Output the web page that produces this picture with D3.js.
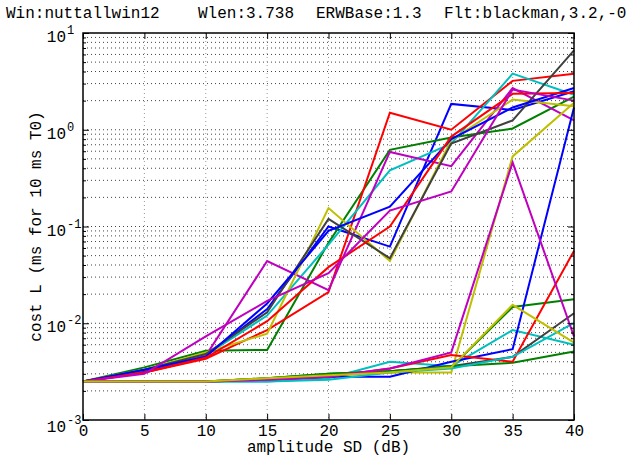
<!DOCTYPE html>
<html>
<head>
<meta charset="utf-8">
<script src="https://cdn.jsdelivr.net/npm/d3@7"></script>
<style>
  body { margin: 0; background: #fff; }
  text { font-family: "Liberation Mono", "Courier New", monospace; fill: #000; }
</style>
</head>
<body>
<svg id="chart" width="627" height="457"></svg>
<script>
// amplitude SD (dB)
const amplitudes = [0, 5, 10, 15, 20, 25, 30, 35, 40]

// cost L values, one array per curve (plot order follows colour cycle)
const blueA    = [0.0025, 0.0032, 0.0046, 0.014, 0.10, 0.062, 1.85, 1.6, 2.5]
const greenA   = [0.0025, 0.0035, 0.0052, 0.0053, 0.068, 0.62, 0.83, 1.03, 2.2]
const redA     = [0.0025, 0.0031, 0.0043, 0.0085, 0.021, 1.5, 1.0, 3.2, 3.8]
const cyanA    = [0.0025, 0.0033, 0.0047, 0.012, 0.065, 0.38, 0.72, 3.8, 2.3]
const magentaA = [0.0025, 0.0031, 0.0046, 0.044, 0.022, 0.59, 0.42, 2.7, 1.25]
const yellowA  = [0.0025, 0.0033, 0.0050, 0.0078, 0.155, 0.044, 0.78, 2.05, 1.75]
const grayA    = [0.0025, 0.0033, 0.0048, 0.013, 0.12, 0.047, 0.72, 1.25, 6.6]
const blueB    = [0.0025, 0.0033, 0.0045, 0.016, 0.09, 0.16, 0.8, 1.7, 2.7]
const greenB   = [0.0025, 0.0025, 0.0025, 0.0027, 0.0030, 0.0032, 0.0035, 0.0147, 0.0177]
const redB     = [0.0025, 0.0031, 0.0044, 0.0105, 0.038, 0.10, 0.85, 2.35, 2.4]
const cyanB    = [0.0025, 0.0025, 0.0025, 0.0025, 0.0027, 0.0040, 0.0036, 0.0085, 0.0060]
const magentaB = [0.0025, 0.0030, 0.0073, 0.017, 0.033, 0.146, 0.23, 2.6, 2.0]
const yellowB  = [0.0025, 0.0025, 0.0025, 0.0027, 0.0029, 0.0031, 0.0031, 0.53, 1.9]
const grayB    = [0.0025, 0.0025, 0.0025, 0.0026, 0.0029, 0.0032, 0.0036, 0.0045, 0.0127]
const blueC    = [0.0025, 0.0025, 0.0025, 0.0026, 0.0028, 0.0028, 0.0040, 0.0054, 1.7]
const greenC   = [0.0025, 0.0025, 0.0025, 0.0027, 0.0030, 0.0032, 0.0036, 0.0039, 0.0051]
const redC     = [0.0025, 0.0025, 0.0025, 0.0026, 0.0028, 0.0034, 0.0047, 0.0040, 0.056]
const cyanC    = [0.0025, 0.0025, 0.0025, 0.0025, 0.0026, 0.0031, 0.0034, 0.0045, 0.0101]
const magentaC = [0.0025, 0.0025, 0.0025, 0.0026, 0.0028, 0.0034, 0.0050, 0.46, 0.0073]
const yellowC  = [0.0025, 0.0025, 0.0025, 0.0027, 0.0029, 0.0031, 0.0035, 0.0155, 0.0063]

const curves = [blueA, greenA, redA, cyanA, magentaA, yellowA, grayA,
                blueB, greenB, redB, cyanB, magentaB, yellowB, grayB,
                blueC, greenC, redC, cyanC, magentaC, yellowC]

const colorCycle = ["#0000ff", "#008000", "#ff0000", "#00bfbf", "#bf00bf", "#bfbf00", "#404040"]

const xTicks = [0, 5, 10, 15, 20, 25, 30, 35, 40]
const yMajor = [1e-3, 1e-2, 1e-1, 1e0, 1e1]
const yExponents = ["-3", "-2", "-1", "0", "1"]

const titleParts = ["Win:nuttallwin12", "Wlen:3.738", "ERWBase:1.3", "Flt:blackman,3.2,-0.5"]

const svg = d3.select("#chart")
const margin = {left: 83, right: 574, top: 33, bottom: 420}

const x = d3.scaleLinear().domain([0, 40]).range([margin.left, margin.right])
const y = d3.scaleLog().domain([1e-3, 1e1]).range([margin.bottom, margin.top])

// minor y values 2..9 per decade
let yMinor = []
for (let e = -3; e < 1; e++) {
  for (let k = 2; k <= 9; k++) yMinor.push(k * Math.pow(10, e))
}

// grid
const grid = svg.append("g").attr("class", "grid")
grid.selectAll("line.hy").data(yMinor.concat(yMajor.slice(1, 4)))
  .enter().append("line")
  .attr("x1", margin.left).attr("x2", margin.right)
  .attr("y1", d => y(d)).attr("y2", d => y(d))
  .attr("stroke", "#444").attr("stroke-width", 1)
  .attr("stroke-dasharray", "1,3")
grid.selectAll("line.vx").data(xTicks.slice(1, -1))
  .enter().append("line")
  .attr("x1", d => x(d)).attr("x2", d => x(d))
  .attr("y1", margin.top).attr("y2", margin.bottom)
  .attr("stroke", "#999").attr("stroke-width", 1)
  .attr("stroke-dasharray", "1,3")

// curves
const line = d3.line()
  .x((d, i) => x(amplitudes[i]))
  .y(d => y(d))

svg.append("g").attr("class", "curves")
  .selectAll("path").data(curves)
  .enter().append("path")
  .attr("d", d => line(d))
  .attr("fill", "none")
  .attr("stroke", (d, i) => colorCycle[i % colorCycle.length])
  .attr("stroke-width", 2)
  .attr("stroke-linejoin", "miter")

// axes, ticks inward on all four sides
const xBottom = svg.append("g")
  .attr("transform", `translate(0,${margin.bottom})`)
  .call(d3.axisBottom(x).tickValues(xTicks).tickSizeInner(-6).tickSizeOuter(0).tickPadding(5))
const xTop = svg.append("g")
  .attr("transform", `translate(0,${margin.top})`)
  .call(d3.axisTop(x).tickValues(xTicks).tickSizeInner(-6).tickSizeOuter(0).tickFormat(""))
const yLeft = svg.append("g")
  .attr("transform", `translate(${margin.left},0)`)
  .call(d3.axisLeft(y).tickValues(yMajor).tickSizeInner(-6).tickSizeOuter(0).tickFormat(""))
const yLeftMinor = svg.append("g")
  .attr("transform", `translate(${margin.left},0)`)
  .call(d3.axisLeft(y).tickValues(yMinor).tickSizeInner(-3).tickSizeOuter(0).tickFormat(""))
const yRight = svg.append("g")
  .attr("transform", `translate(${margin.right},0)`)
  .call(d3.axisRight(y).tickValues(yMajor).tickSizeInner(-6).tickSizeOuter(0).tickFormat(""))
const yRightMinor = svg.append("g")
  .attr("transform", `translate(${margin.right},0)`)
  .call(d3.axisRight(y).tickValues(yMinor).tickSizeInner(-3).tickSizeOuter(0).tickFormat(""))

;[xBottom, xTop, yLeft, yLeftMinor, yRight, yRightMinor].forEach(g => {
  g.select(".domain").remove()
  g.selectAll(".tick line").attr("stroke", "#000")
})
xBottom.selectAll(".tick text")
  .attr("font-size", 16)
  .attr("font-family", "Liberation Mono, monospace")

// y tick labels as 10 with superscript exponent
const yLabels = svg.append("g").attr("class", "ylabels")
yMajor.forEach((v, i) => {
  yLabels.append("text")
    .attr("x", 66)
    .attr("y", y(v) + (i === 0 ? 12 : 9))
    .attr("text-anchor", "end")
    .attr("font-size", 16)
    .text("10")
  yLabels.append("text")
    .attr("x", 67)
    .attr("y", y(v) + (i === 0 ? 4 : 1))
    .attr("font-size", 12)
    .text(yExponents[i])
})

// frame
svg.append("rect")
  .attr("x", margin.left).attr("y", margin.top)
  .attr("width", margin.right - margin.left)
  .attr("height", margin.bottom - margin.top)
  .attr("fill", "none").attr("stroke", "#000").attr("stroke-width", 1.5)

// title (runs off the right edge as in the original)
const titleX = [6, 198, 316, 444]
const title = svg.append("text").attr("y", 18).attr("font-size", 16)
titleParts.forEach((p, i) => {
  title.append("tspan").attr("x", titleX[i]).text(p)
})

// axis labels
svg.append("text")
  .attr("x", (margin.left + margin.right) / 2)
  .attr("y", 452)
  .attr("text-anchor", "middle")
  .attr("font-size", 16)
  .text("amplitude SD (dB)")

svg.append("text")
  .attr("transform", `translate(41,${(margin.top + margin.bottom) / 2}) rotate(-90)`)
  .attr("text-anchor", "middle")
  .attr("font-size", 16)
  .text("cost L (ms for 10 ms T0)")
</script>
</body>
</html>
